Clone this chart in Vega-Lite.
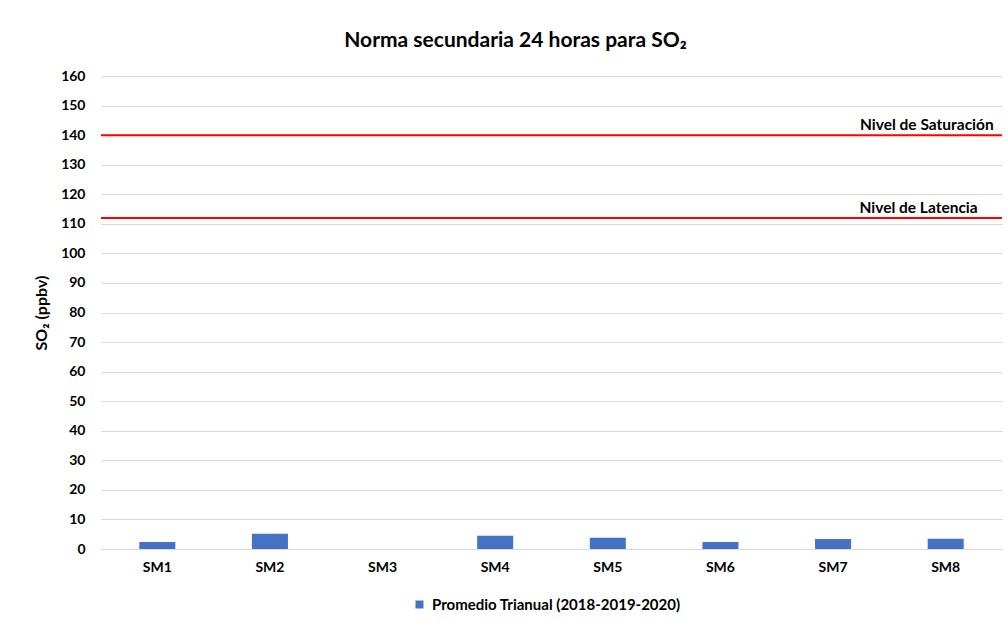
{
  "$schema": "https://vega.github.io/schema/vega-lite/v6.json",
  "width": 901,
  "height": 473,
  "autosize": {"type": "none"},
  "padding": {"left": 101, "top": 76, "right": 6, "bottom": 81},
  "background": "white",
  "config": {
    "font": "Lato",
    "view": {"stroke": null}
  },
  "title": {
    "text": "Norma secundaria 24 horas para SO₂",
    "font": "Lato",
    "fontSize": 21,
    "fontWeight": "bold",
    "color": "#000000",
    "anchor": "middle",
    "dx": -36,
    "offset": 18
  },
  "datasets": {
    "barras": [
      {"estacion": "SM1", "valor": 2.4, "serie": "Promedio Trianual (2018-2019-2020)"},
      {"estacion": "SM2", "valor": 5.2, "serie": "Promedio Trianual (2018-2019-2020)"},
      {"estacion": "SM3", "valor": 0, "serie": "Promedio Trianual (2018-2019-2020)"},
      {"estacion": "SM4", "valor": 4.5, "serie": "Promedio Trianual (2018-2019-2020)"},
      {"estacion": "SM5", "valor": 3.8, "serie": "Promedio Trianual (2018-2019-2020)"},
      {"estacion": "SM6", "valor": 2.4, "serie": "Promedio Trianual (2018-2019-2020)"},
      {"estacion": "SM7", "valor": 3.4, "serie": "Promedio Trianual (2018-2019-2020)"},
      {"estacion": "SM8", "valor": 3.5, "serie": "Promedio Trianual (2018-2019-2020)"}
    ],
    "niveles": [
      {"nivel": "Nivel de Saturación", "valor": 140},
      {"nivel": "Nivel de Latencia", "valor": 112}
    ]
  },
  "encoding": {
    "y": {
      "field": "valor",
      "type": "quantitative",
      "scale": {"domain": [0, 160], "nice": false},
      "axis": {
        "title": "SO₂ (ppbv)",
        "titleFont": "Lato",
        "titleFontSize": 16,
        "titleFontWeight": "bold",
        "titleColor": "#000000",
        "titleX": -60,
        "titleBaseline": "middle",
        "values": [0, 10, 20, 30, 40, 50, 60, 70, 80, 90, 100, 110, 120, 130, 140, 150, 160],
        "labelOverlap": false,
        "labelFont": "Lato",
        "labelFontSize": 14,
        "labelFontWeight": "bold",
        "labelColor": "#000000",
        "labelPadding": 16,
        "ticks": false,
        "domain": false,
        "gridColor": "#d9d9d9",
        "gridWidth": 1
      }
    }
  },
  "layer": [
    {
      "data": {"name": "barras"},
      "mark": {"type": "bar"},
      "encoding": {
        "x": {
          "field": "estacion",
          "type": "nominal",
          "sort": null,
          "scale": {"paddingInner": 0.68, "paddingOuter": 0.34},
          "axis": {
            "title": null,
            "labelAngle": 0,
            "labelFont": "Lato",
            "labelFontSize": 14,
            "labelFontWeight": "bold",
            "labelColor": "#000000",
            "labelPadding": 11,
            "ticks": false,
            "domainColor": "#d9d9d9",
            "domainWidth": 1
          }
        },
        "color": {
          "field": "serie",
          "type": "nominal",
          "scale": {"range": ["#4472C4"]},
          "legend": {
            "title": null,
            "orient": "none",
            "legendX": 311,
            "legendY": 521,
            "symbolType": "square",
            "symbolSize": 64,
            "symbolStrokeWidth": 0,
            "labelFont": "Lato",
            "labelFontSize": 15,
            "labelFontWeight": "bold",
            "labelColor": "#000000",
            "labelLimit": 500,
            "labelOffset": 5
          }
        }
      }
    },
    {
      "data": {"name": "niveles"},
      "mark": {"type": "rule", "color": "#FF0000", "strokeWidth": 2},
      "encoding": {}
    },
    {
      "data": {"name": "niveles"},
      "transform": [{"filter": "datum.nivel === 'Nivel de Saturación'"}],
      "mark": {"type": "text", "align": "right", "baseline": "middle", "dx": 48, "dy": -10, "font": "Lato", "fontSize": 15.5, "fontWeight": "bold", "color": "#000000"},
      "encoding": {
        "x": {"datum": "SM8", "type": "nominal"},
        "text": {"field": "nivel"}
      }
    },
    {
      "data": {"name": "niveles"},
      "transform": [{"filter": "datum.nivel === 'Nivel de Latencia'"}],
      "mark": {"type": "text", "align": "right", "baseline": "middle", "dx": 32, "dy": -10, "font": "Lato", "fontSize": 15.5, "fontWeight": "bold", "color": "#000000"},
      "encoding": {
        "x": {"datum": "SM8", "type": "nominal"},
        "text": {"field": "nivel"}
      }
    }
  ]
}
